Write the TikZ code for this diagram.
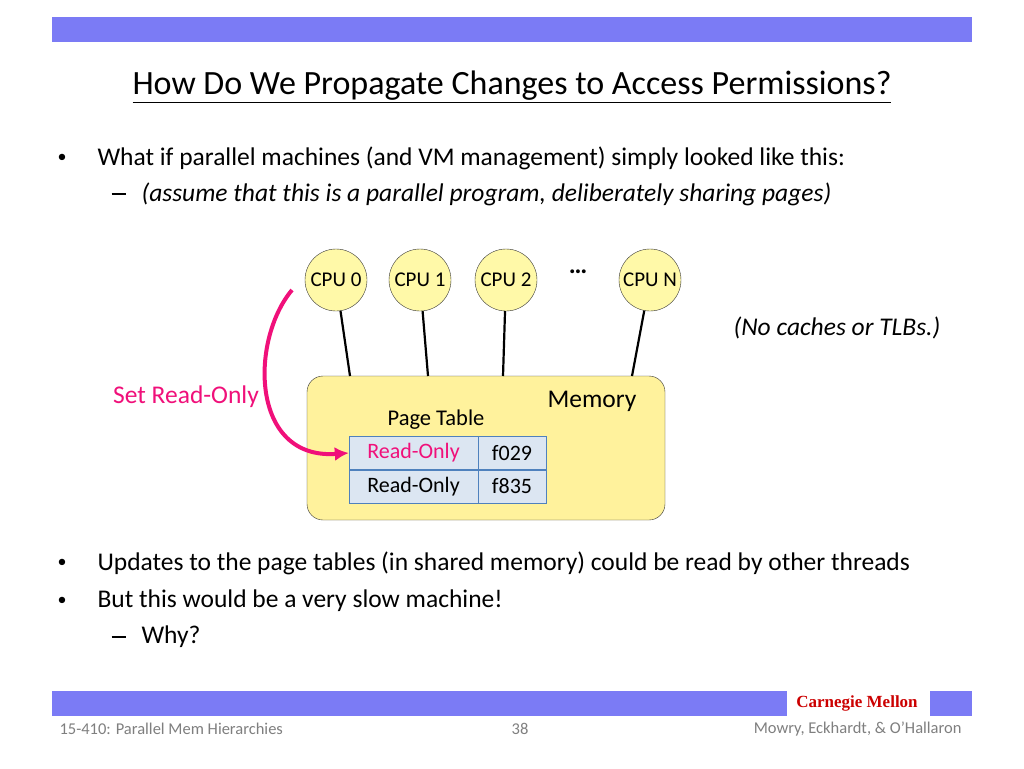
\documentclass[tikz,border=0pt]{standalone}
\usepackage{fontspec}
\setmainfont{Carlito}
\newfontfamily\cmufont{Liberation Serif}
\usetikzlibrary{positioning,arrows.meta}
\definecolor{barblue}{HTML}{7B7BF5}
\definecolor{cpuyellow}{HTML}{FFF9A8}
\definecolor{memyellow}{HTML}{FFF29C}
\definecolor{cellblue}{HTML}{DCE6F2}
\definecolor{cellline}{HTML}{4F81BD}
\definecolor{hotpink}{HTML}{F0107A}
\definecolor{footgray}{HTML}{7F7F7F}
\newcommand{\subdash}{\rule[-0.05em]{0.55em}{1.2pt}}
\begin{document}
\begin{tikzpicture}[x=1pt,y=-1pt,
    cpu/.style={circle,draw=black!80,fill=cpuyellow,minimum size=62pt,inner sep=0pt,font=\fontsize{21}{23}\selectfont},
    cell/.style={draw=cellline,fill=cellblue,minimum height=33pt,inner sep=0pt,font=\fontsize{22}{24}\selectfont},
    body/.style={anchor=west,font=\fontsize{25.5}{28}\selectfont},
    foot/.style={text=footgray,font=\fontsize{16.5}{18}\selectfont},
    wire/.style={line width=2.2pt}]
  \useasboundingbox (0,0) rectangle (1024,768);
  \fill[white] (0,0) rectangle (1024,768);

  % Bars
  \fill[barblue] (52,17) rectangle (972,42);
  \fill[barblue] (52,691) rectangle (972,716);
  \fill[white] (787,689) rectangle (930,716);
  \node (cmu) at (857,703) {\cmufont\bfseries\fontsize{17}{19}\selectfont\textcolor{red!80!black}{Carnegie Mellon}};
  \node[foot,anchor=west] (f1) at (56,729) {15-410: Parallel Mem Hierarchies};
  \node[foot] (f2) at (520,729) {38};
  \node[foot,anchor=east] (f3) at (965,729) {Mowry, Eckhardt, \& O'Hallaron};

  % Title and text
  \node (title) at (512,87) {\fontsize{34}{38}\selectfont\underline{How Do We Propagate Changes to Access Permissions?}};
  \node[body] (b1) at (54,158) {\fontsize{18}{20}\selectfont•};
  \node[body] (t1) at (94,158) {What if parallel machines (and VM management) simply looked like this:};
  \node[body] (d1) at (108,194) {\subdash};
  \node[body] (t2) at (138,194) {\itshape (assume that this is a parallel program, deliberately sharing pages)};
  \node[body] (b2) at (54,563) {\fontsize{18}{20}\selectfont•};
  \node[body] (t3) at (94,563) {Updates to the page tables (in shared memory) could be read by other threads};
  \node[body] (b3) at (54,601) {\fontsize{18}{20}\selectfont•};
  \node[body] (t4) at (94,601) {But this would be a very slow machine!};
  \node[body] (d2) at (108,637) {\subdash};
  \node[body] (t5) at (138,637) {Why?};
  \node[body] (nocache) at (730,328) {\itshape (No caches or TLBs.)};

  % Memory
  \draw[black!80,fill=memyellow,rounded corners=16pt] (307,376) rectangle (665,520);
  \coordinate (m0) at (350,376);
  \coordinate (m1) at (428,376);
  \coordinate (m2) at (503,376);
  \coordinate (mn) at (632,376);
  \node (memlbl) at (592,401) {\fontsize{25.5}{28}\selectfont Memory};
  \node (ptlbl) at (436,420) {\fontsize{22.5}{24}\selectfont Page Table};
  \node[cell,minimum width=129pt] (r1a) at (413.5,453) {\textcolor{hotpink}{Read-Only}};
  \node[cell,minimum width=68pt] (r1b) at (512,453) {f029};
  \node[cell,minimum width=129pt] (r2a) at (413.5,486.5) {Read-Only};
  \node[cell,minimum width=68pt] (r2b) at (512,486.5) {f835};

  % CPUs
  \node[cpu] (c0) at (336,280) {CPU 0};
  \node[cpu] (c1) at (420,280) {CPU 1};
  \node[cpu] (c2) at (506,280) {CPU 2};
  \node[cpu] (cn) at (650,280) {CPU N};
  \node (dots) at (578,272) {\fontsize{26}{28}\selectfont\bfseries\dots};
  \draw[wire] (c0) -- (m0);
  \draw[wire] (c1) -- (m1);
  \draw[wire] (c2) -- (m2);
  \draw[wire] (cn) -- (mn);

  % Permission change
  \node (setro) at (186,397) {\fontsize{25.5}{28}\selectfont\textcolor{hotpink}{Set Read-Only}};
  \coordinate (src) at (292,290);
  \draw[hotpink,line width=4pt,-{Latex[length=14pt,width=14pt]}]
    (src) .. controls (250,340) and (250,460) .. (r1a.west);
\end{tikzpicture}
\end{document}
